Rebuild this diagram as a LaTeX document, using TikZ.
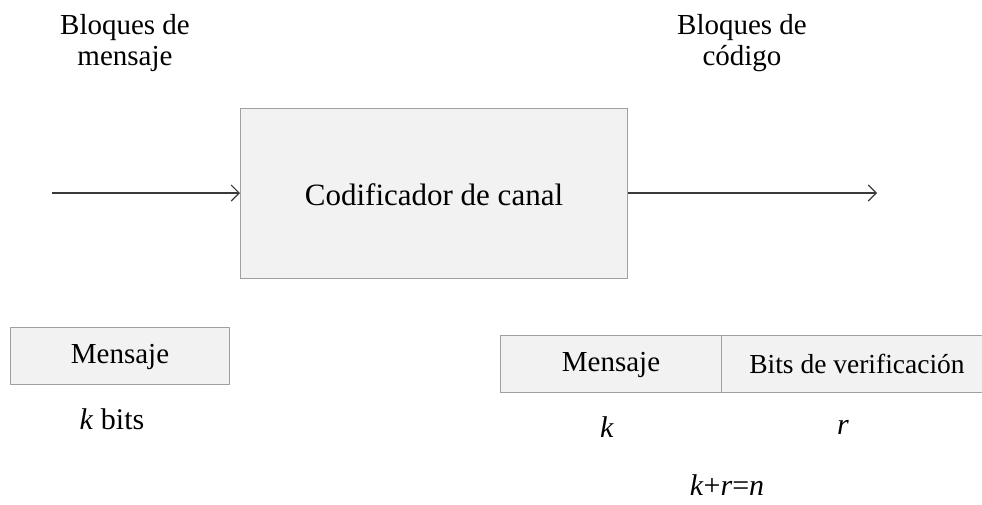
\documentclass[tikz,border=0pt]{standalone}
\usepackage{fontspec}
\setmainfont{Liberation Serif}
\usetikzlibrary{arrows.meta}
\definecolor{boxfill}{HTML}{F2F2F2}
\definecolor{boxline}{HTML}{A0A0A0}
\definecolor{arrline}{HTML}{3A3A3A}
\begin{document}
\begin{tikzpicture}[x=1pt,y=-1pt,
  blk/.style={draw=boxline,fill=boxfill,line width=1.2pt,inner sep=0pt,anchor=north west},
  lbl/.style={font=\fontsize{29}{31}\selectfont,align=center,text=black},
  conn/.style={draw=arrline,line width=1.1pt,-{Straight Barb[length=8pt,width=16pt,line width=1.1pt]}}]
\useasboundingbox (0,0) rectangle (982,504);
\node[lbl] (tl) at (125,43) {Bloques de\\mensaje};
\node[lbl] (tr) at (742,43) {Bloques de\\código};
\node[blk,minimum width=387pt,minimum height=170pt] (enc) at (240,108) {};
\node[lbl,font=\fontsize{31}{34}\selectfont] (enct) at (434,195) {Codificador de canal};
\coordinate (in) at (52,193);
\coordinate (out) at (877,193);
\draw[conn] (in) -- (in -| enc.west);
\draw[conn] (out -| enc.east) -- (out);
\node[blk,minimum width=219pt,minimum height=57pt] (msg) at (10,327) {};
\node[lbl] (msgt) at (120,357) {Mensaje};
\node[lbl,font=\fontsize{30}{32}\selectfont] (kb) at (112,419) {\textit{k} bits};
\node[blk,minimum width=221pt,minimum height=57pt] (cm) at (500,335) {};
\node[blk,minimum width=270pt,minimum height=57pt] (cv) at (721,335) {};
\node[lbl] (cmt) at (611,365) {Mensaje};
\node[lbl,font=\fontsize{27.5}{30}\selectfont] (cvt) at (857,364) {Bits de verificación};
\node[lbl,font=\fontsize{30}{32}\selectfont] (kk) at (607,427) {\textit{k}};
\node[lbl,font=\fontsize{30}{32}\selectfont] (rr) at (843,427) {\textit{r}};
\node[lbl,font=\fontsize{30}{32}\selectfont] (eq) at (727,485) {\textit{k}+\textit{r}=\textit{n}};
\end{tikzpicture}
\end{document}
